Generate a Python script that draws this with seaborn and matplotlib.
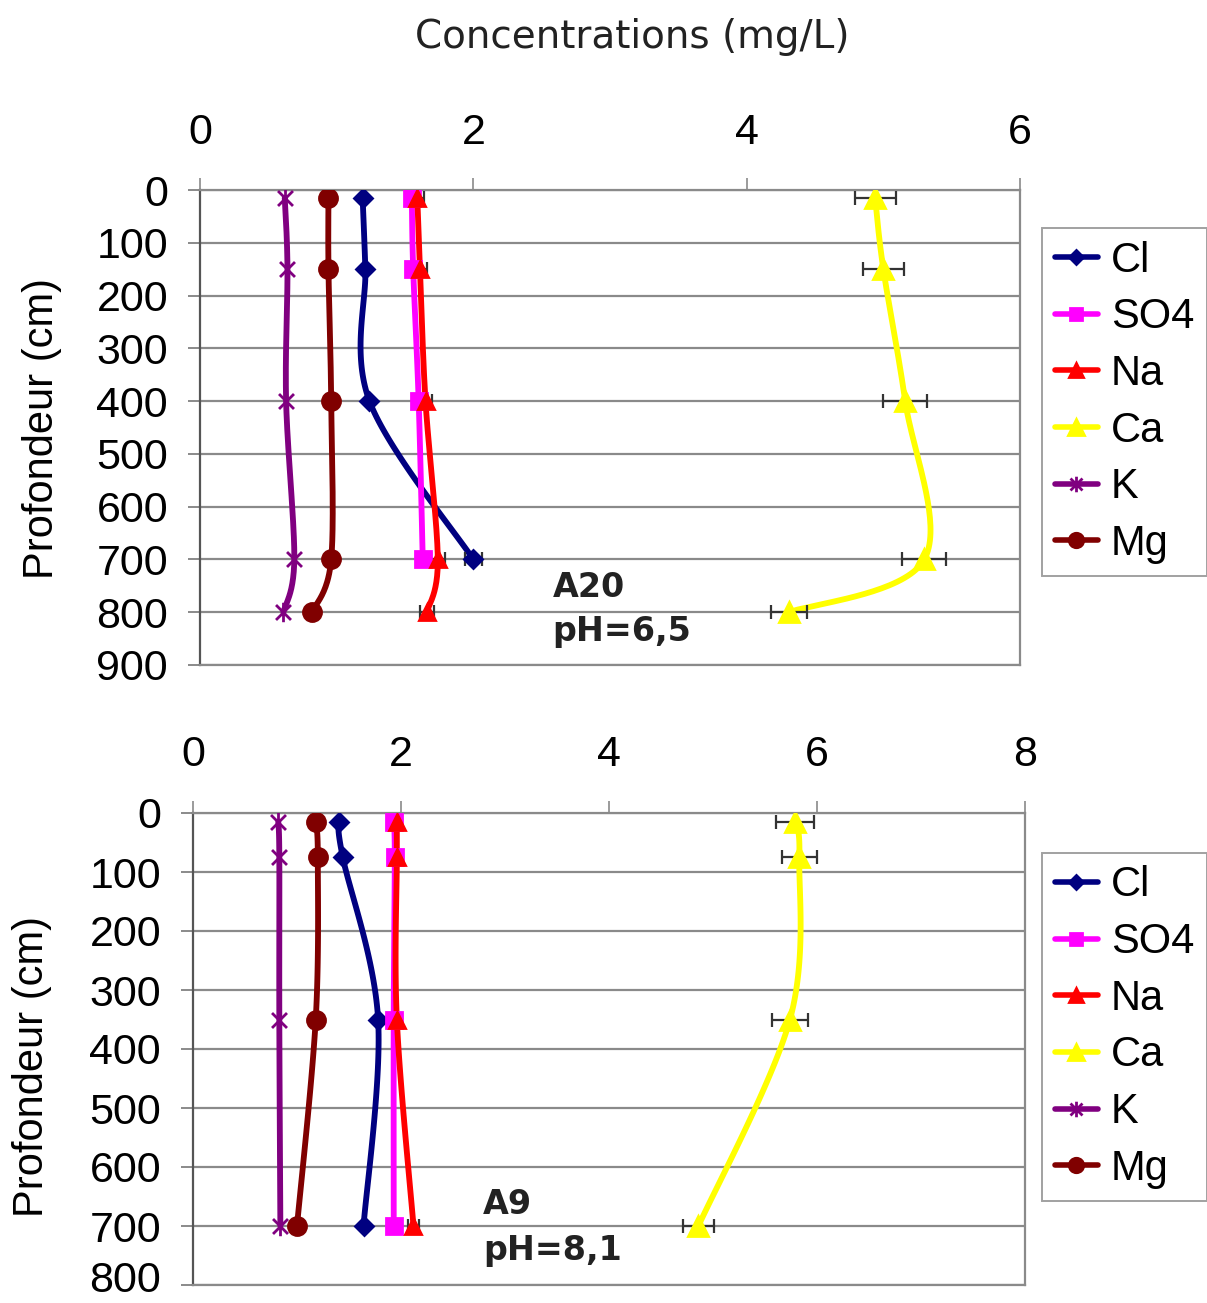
import numpy as np
import pandas as pd
import matplotlib
matplotlib.use("Agg")
import matplotlib.pyplot as plt
import matplotlib.transforms as mtransforms
import seaborn as sns
from matplotlib.lines import Line2D
from matplotlib.path import Path

# ---------------- data ----------------
ions = ["Cl", "SO4", "Na", "Ca", "K", "Mg"]

# Profile A20 (pH 6.5)
depth_a20 = [15, 150, 400, 700, 800]
cl_a20 = [1.19, 1.21, 1.24, 2.00, np.nan]
so4_a20 = [1.55, 1.56, 1.60, 1.63, np.nan]
na_a20 = [1.59, 1.61, 1.65, 1.74, 1.66]
ca_a20 = [4.94, 5.00, 5.16, 5.30, 4.31]
k_a20 = [0.62, 0.64, 0.63, 0.69, 0.61]
mg_a20 = [0.94, 0.94, 0.96, 0.96, 0.82]
ca_err_a20 = [0.15, 0.15, 0.16, 0.16, 0.13]
cl_err_a20 = [0.0, 0.0, 0.0, 0.06, 0.0]
na_err_a20 = [0.05, 0.05, 0.05, 0.05, 0.05]

# Profile A9 (pH 8.1)
depth_a9 = [15, 75, 350, 700]
cl_a9 = [1.40, 1.44, 1.78, 1.64]
so4_a9 = [1.93, 1.94, 1.93, 1.93]
na_a9 = [1.96, 1.96, 1.96, 2.12]
ca_a9 = [5.79, 5.83, 5.74, 4.86]
k_a9 = [0.82, 0.83, 0.83, 0.84]
mg_a9 = [1.18, 1.20, 1.18, 1.00]
ca_err_a9 = [0.18, 0.17, 0.17, 0.15]
na_err_a9 = [0.05, 0.05, 0.05, 0.05]

xticks_a20 = [0, 2, 4, 6]
xticks_a9 = [0, 2, 4, 6, 8]
yticks_a20 = [0, 100, 200, 300, 400, 500, 600, 700, 800, 900]
yticks_a9 = [0, 100, 200, 300, 400, 500, 600, 700, 800]

colors = {"Cl": "#000080", "SO4": "#FF00FF", "Na": "#FF0000",
          "Ca": "#FFFF00", "K": "#800080", "Mg": "#800000"}

# ---------------- style ----------------
sns.set_style("white")
plt.rcParams["font.family"] = ["Liberation Sans", "DejaVu Sans"]
plt.rcParams["text.color"] = "black"
plt.rcParams["axes.labelcolor"] = "black"
plt.rcParams["xtick.labelcolor"] = "black"
plt.rcParams["ytick.labelcolor"] = "black"

star = Path([(-1, -1), (1, 1), (-1, 1), (1, -1), (0, -1.3), (0, 1.3)],
            [Path.MOVETO, Path.LINETO, Path.MOVETO, Path.LINETO, Path.MOVETO, Path.LINETO])
markers = {"Cl": dict(marker="D", ms=9), "SO4": dict(marker="s", ms=11),
           "Na": dict(marker="^", ms=12), "Ca": dict(marker="^", ms=15),
           "K": dict(marker=star, ms=14), "Mg": dict(marker="o", ms=13)}

GRID = "#8a8a8a"


def smooth(xs, ys, sx, sy, n=40):
    """Excel-like smoothed rendering path (Bezier through the data points)."""
    P = np.column_stack([np.asarray(xs) * sx, np.asarray(ys) * sy])
    segs = []
    for i in range(len(P) - 1):
        p0 = P[i - 1] if i > 0 else P[i]
        p1, p2 = P[i], P[i + 1]
        p3 = P[i + 2] if i + 2 < len(P) else P[i + 1]
        c1 = p1 + (p2 - p0) / 6.0
        c2 = p2 - (p3 - p1) / 6.0
        t = np.linspace(0, 1, n)[:, None]
        B = (1 - t) ** 3 * p1 + 3 * (1 - t) ** 2 * t * c1 + 3 * (1 - t) * t ** 2 * c2 + t ** 3 * p2
        segs.append(B if i == 0 else B[1:])
    out = np.vstack(segs)
    return out[:, 0] / sx, out[:, 1] / sy


def draw(ax, depth, series, errs, xmax, ymax, xticks, yticks, sx, sy):
    ax.set_xlim(0, xmax)
    ax.set_ylim(ymax, 0)
    for name in ions:
        vals = np.asarray(series[name], dtype=float)
        d = np.asarray(depth, dtype=float)
        ok = ~np.isnan(vals)
        xs, ys = smooth(vals[ok], d[ok], sx, sy)
        df = pd.DataFrame({"conc": xs, "depth": ys})
        sns.lineplot(data=df, x="conc", y="depth", sort=False, estimator=None,
                     color=colors[name], lw=4.2, ax=ax, zorder=3)
        if name in errs:
            e = np.asarray(errs[name], dtype=float)[ok]
            ax.errorbar(vals[ok], d[ok], xerr=e, fmt="none", ecolor="#333333",
                        elinewidth=1.6, capsize=5, capthick=1.6, zorder=4)
        mk = markers[name]
        ax.plot(vals[ok], d[ok], linestyle="none", marker=mk["marker"], ms=mk["ms"],
                color=colors[name], mec=colors[name], mew=2, zorder=5)
    ax.xaxis.tick_top()
    ax.set_xticks(xticks)
    ax.set_yticks(yticks)
    ax.set_xlabel("")
    ax.set_ylabel("Profondeur (cm)", fontsize=30)
    ax.grid(axis="y", color=GRID, lw=1.6)
    ax.grid(axis="x", visible=False)
    ax.tick_params(axis="x", top=True, bottom=False, length=9, width=1.2, color=GRID,
                   pad=18, labelsize=31, labeltop=True, labelbottom=False)
    ax.tick_params(axis="y", left=True, length=9, width=1.4, color=GRID, pad=14, labelsize=31)
    for s in ["top", "right", "bottom"]:
        ax.spines[s].set_color(GRID)
        ax.spines[s].set_linewidth(1.6)
    ax.spines["left"].set_color("#555555")
    ax.spines["left"].set_linewidth(1.6)
    ax.set_axisbelow(True)


fig = plt.figure(figsize=(12.07, 13.03), dpi=100)
ax1 = fig.add_axes([200 / 1207, 1 - 665 / 1303, 820 / 1207, 475 / 1303])
ax2 = fig.add_axes([193 / 1207, 1 - 1285 / 1303, 832 / 1207, 472 / 1303])

draw(ax1, depth_a20,
     {"Cl": cl_a20, "SO4": so4_a20, "Na": na_a20, "Ca": ca_a20, "K": k_a20, "Mg": mg_a20},
     {"Ca": ca_err_a20, "Cl": cl_err_a20, "Na": na_err_a20},
     6, 900, xticks_a20, yticks_a20, 136.7, 0.528)
draw(ax2, depth_a9,
     {"Cl": cl_a9, "SO4": so4_a9, "Na": na_a9, "Ca": ca_a9, "K": k_a9, "Mg": mg_a9},
     {"Ca": ca_err_a9, "Na": na_err_a9},
     8, 800, xticks_a9, yticks_a9, 104.0, 0.59)

# nudge the lowest tick label of the lower panel slightly up so it stays inside the canvas
shift = mtransforms.ScaledTranslation(0, 9 / 100, fig.dpi_scale_trans)
for lbl in ax2.get_yticklabels():
    if lbl.get_text() == "800":
        lbl.set_transform(lbl.get_transform() + shift)

ax1.yaxis.set_label_coords(-0.168, 0.497)
ax2.yaxis.set_label_coords(-0.169, 0.462)

ax1.text(2.58, 754, "A20", fontsize=24, fontweight="bold", family="DejaVu Sans",
         va="center", ha="left", color="#222222", zorder=6)
ax1.text(2.58, 837, "pH=6,5", fontsize=24, fontweight="bold", family="DejaVu Sans",
         va="center", ha="left", color="#222222", zorder=6)
ax2.text(2.79, 664, "A9", fontsize=24, fontweight="bold", family="DejaVu Sans",
         va="center", ha="left", color="#222222", zorder=6)
ax2.text(2.79, 741, "pH=8,1", fontsize=24, fontweight="bold", family="DejaVu Sans",
         va="center", ha="left", color="#222222", zorder=6)

fig.text(632 / 1207, 1 - 37 / 1303, "Concentrations (mg/L)", fontsize=28,
         family="DejaVu Sans", ha="center", va="center", color="#222222")

handles = [Line2D([0], [0], color=colors[n], lw=4, marker=markers[n]["marker"],
                  ms=markers[n]["ms"] * 0.8, mec=colors[n], mew=2) for n in ions]
for top in (228, 853):
    leg = fig.legend(handles, ions, loc="upper left",
                     bbox_to_anchor=(1042 / 1207, 1 - top / 1303),
                     fontsize=30, frameon=True, fancybox=False, borderaxespad=0,
                     handlelength=1.05, handletextpad=0.3, labelspacing=0.40,
                     borderpad=0.3)
    leg.get_frame().set_edgecolor(GRID)
    leg.get_frame().set_linewidth(1.4)

fig.savefig("out.png", dpi=100)
